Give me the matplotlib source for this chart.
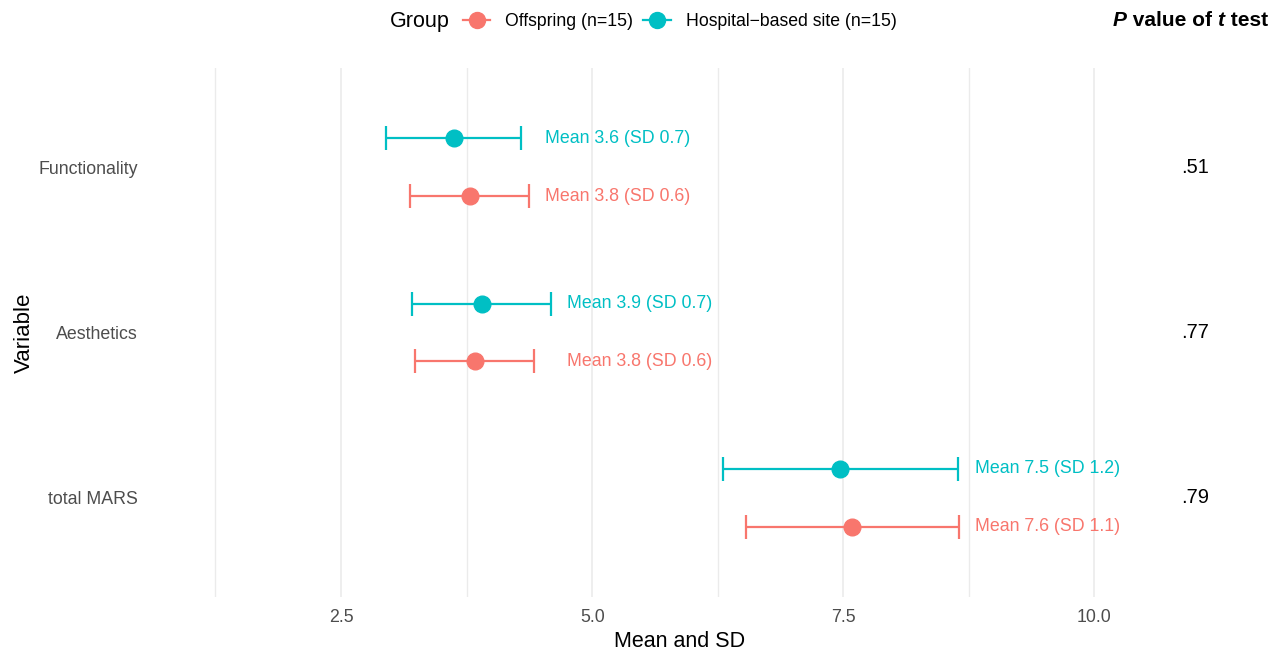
import matplotlib
matplotlib.use('Agg')
import matplotlib.pyplot as plt
from matplotlib.lines import Line2D
import numpy as np

plt.rcParams['font.family'] = ['Liberation Sans', 'DejaVu Sans']

# Data
variables = ["Functionality", "Aesthetics", "total MARS"]
offspring_mean = [3.78, 3.83, 7.59]
offspring_sd = [0.59, 0.59, 1.06]
hospital_mean = [3.62, 3.90, 7.47]
hospital_sd = [0.67, 0.69, 1.17]
p_values = [".51", ".77", ".79"]
group_labels = ["Offspring (n=15)", "Hospital\u2212based site (n=15)"]

col_off = '#F8766D'
col_hos = '#00BFC4'

fig = plt.figure(figsize=(12.84, 6.54), dpi=100)
ax = fig.add_axes([150 / 1284, 57 / 654, 1060 / 1284, 529 / 654])

ypos = np.arange(len(variables))[::-1] + 1.0  # Functionality on top
dodge = 0.175

groups = [
    (offspring_mean, offspring_sd, col_off, -dodge),
    (hospital_mean, hospital_sd, col_hos, dodge),
]
for means, sds, col, dy in groups:
    ax.errorbar(means, ypos + dy, xerr=sds, fmt='o', color=col, ecolor=col,
                markersize=12, elinewidth=1.6, capsize=8.5, capthick=1.6, zorder=3)

# labels next to the bars
for i in range(len(variables)):
    x_txt = max(offspring_mean[i] + offspring_sd[i], hospital_mean[i] + hospital_sd[i]) + 0.16
    for means, sds, col, dy in groups:
        ax.text(x_txt, ypos[i] + dy, f"Mean {means[i]:.1f} (SD {sds[i]:.1f})",
                color=col, fontsize=12.8, ha='left', va='center')
    ax.text(11.0, ypos[i], p_values[i], fontsize=14.5, ha='center', va='center',
            color='black', clip_on=False)

ax.set_xlim(0.598, 11.15)
ax.set_ylim(0.4, 3.6)
ax.set_xticks([2.5, 5.0, 7.5, 10.0])
ax.set_xticklabels(["2.5", "5.0", "7.5", "10.0"])
ax.set_xticks([1.25, 3.75, 6.25, 8.75], minor=True)
ax.set_yticks(ypos)
ax.set_yticklabels(variables)
ax.grid(axis='x', which='major', color='#EBEBEB', linewidth=1.2, zorder=0)
ax.grid(axis='x', which='minor', color='#EBEBEB', linewidth=1.0, zorder=0)
ax.set_axisbelow(True)
for s in ax.spines.values():
    s.set_visible(False)
ax.tick_params(axis='both', which='both', length=0, labelsize=12.8, labelcolor='#4D4D4D')
ax.tick_params(axis='x', pad=9)
ax.tick_params(axis='y', pad=9)
ax.set_xlabel("Mean and SD", fontsize=15.5, labelpad=3)
ax.set_ylabel("Variable", fontsize=16)
ax.yaxis.set_label_coords(-0.109, 0.5)

# legend on top
fig.text(390 / 1284, 1 - 21 / 654, "Group", fontsize=15.5, ha='left', va='center')
handles = [Line2D([0], [0], color=col_off, marker='o', markersize=11.5, linewidth=1.6),
           Line2D([0], [0], color=col_hos, marker='o', markersize=11.5, linewidth=1.6)]
fig.legend(handles, group_labels, loc='center left', bbox_to_anchor=(463 / 1284, 1 - 21.5 / 654),
           ncol=2, frameon=False, fontsize=12.7, handlelength=1.55, handletextpad=0.85,
           columnspacing=0.57, borderpad=0, borderaxespad=0)

# header for p values
t1 = fig.text(1113 / 1284, 1 - 20 / 654, "P", fontsize=15, fontweight='bold',
              fontstyle='italic', ha='left', va='center')
t2 = ax.annotate(" value of ", xy=(1, 0.5), xycoords=t1, fontsize=15, fontweight='bold',
                 ha='left', va='center', annotation_clip=False)
t3 = ax.annotate("t", xy=(1, 0.5), xycoords=t2, fontsize=15, fontweight='bold',
                 fontstyle='italic', ha='left', va='center', annotation_clip=False)
ax.annotate(" test", xy=(1, 0.5), xycoords=t3, fontsize=15, fontweight='bold',
            ha='left', va='center', annotation_clip=False)

fig.savefig('out.png', dpi=100)
